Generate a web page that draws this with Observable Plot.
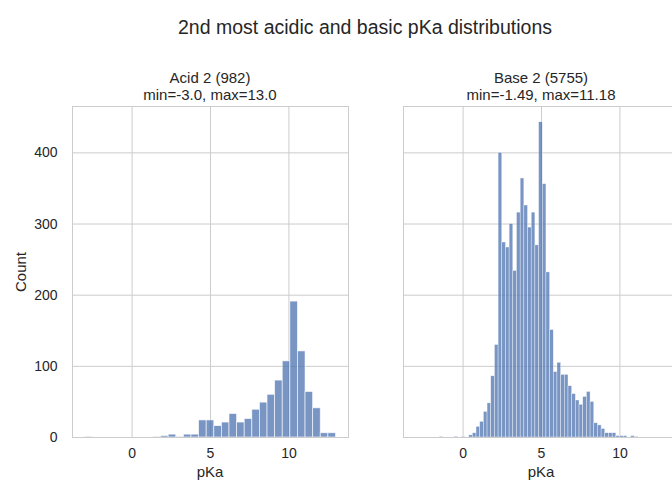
<!DOCTYPE html>
<html>
<head>
<meta charset="utf-8">
<script src="https://cdn.jsdelivr.net/npm/d3@7"></script>
<script src="https://cdn.jsdelivr.net/npm/@observablehq/plot@0.6"></script>
<style>
  html, body { margin: 0; padding: 0; background: #fff; }
  #wrap { position: relative; width: 672px; height: 484px; overflow: hidden; background: #fff;
          font-family: "Liberation Sans", Arial, sans-serif; color: #262626; }
  .abs { position: absolute; white-space: nowrap; }
  .sup { left: 0; width: 730px; top: 16px; text-align: center; font-size: 19.5px; line-height: 22px; }
  .ttl { width: 300px; text-align: center; font-size: 15px; line-height: 17px; top: 69px; }
  .lbl { font-size: 15px; line-height: 18px; text-align: center; width: 100px; }
  .panel { position: absolute; top: 0; line-height: 0; }
  .panel svg { max-width: none !important; display: block; }
</style>
</head>
<body>
<div id="wrap">
  <div class="abs sup">2nd most acidic and basic pKa distributions</div>
  <div class="abs ttl" style="left:60px">Acid 2 (982)<br>min=-3.0, max=13.0</div>
  <div class="abs ttl" style="left:391px">Base 2 (5755)<br>min=-1.49, max=11.18</div>
  <div class="abs lbl" style="left:-29px; top:263px; transform: rotate(-90deg);">Count</div>
  <div class="abs lbl" style="left:160px; top:463px;">pKa</div>
  <div class="abs lbl" style="left:491px; top:463px;">pKa</div>
  <div id="p1" class="panel" style="left:0px; width:349px; height:484px;"></div>
  <div id="p2" class="panel" style="left:402px; width:278px; height:484px;"></div>
</div>
<script>
// ---- data ----
const acidRange = [-3.0, 13.0];
const acidCounts = [1, 0, 0, 0, 0, 0, 0, 0, 0, 1, 2, 4, 1, 4, 4, 24, 24, 16, 21, 33,
                    21, 26, 39, 49, 60, 80, 107, 191, 121, 64, 41, 6, 6];
const baseRange = [-1.49, 11.18];
const baseCounts = [1, 0, 0, 0, 1, 0, 1, 0, 3, 6,
                    15, 22, 36, 48, 86, 130, 400, 274, 267, 300,
                    234, 316, 364, 326, 295, 316, 270, 443, 356, 232,
                    151, 92, 105, 88, 88, 72, 61, 52, 46, 57,
                    64, 50, 20, 17, 12, 6, 6, 6, 2, 2,
                    2, 0, 2, 1];
const xTicks = [0, 5, 10];
const yTicks = [0, 100, 200, 300, 400];

// shared scales (matplotlib 5% margins on data range)
const xMin = Math.min(acidRange[0], baseRange[0]), xMax = Math.max(acidRange[1], baseRange[1]);
const xPad = (xMax - xMin) * 0.05;
const xDomain = [xMin - xPad, xMax + xPad];
const yDomain = [0, Math.max(...acidCounts, ...baseCounts) * 1.05];

function toBins(range, counts) {
  const w = (range[1] - range[0]) / counts.length;
  return counts.map((c, i) => ({x1: range[0] + i * w, x2: range[0] + (i + 1) * w, count: c}))
               .filter(d => d.count > 0);
}

const grid = "#cccccc";
const barColor = "#4c72b0";
const style = {fontFamily: "'Liberation Sans', Arial, sans-serif", fontSize: "14px", color: "#262626",
               background: "transparent", overflow: "visible", maxWidth: "none"};

function panel(bins, opts) {
  return Plot.plot({
    width: opts.width, height: 484,
    marginLeft: opts.marginLeft, marginRight: 1, marginTop: 106, marginBottom: 47,
    style,
    x: {domain: xDomain, ticks: xTicks, tickSize: 0, tickPadding: 11, label: null},
    y: opts.showY
      ? {domain: yDomain, ticks: yTicks, tickSize: 0, tickPadding: 15, label: null}
      : {domain: yDomain, axis: null},
    marks: [
      Plot.ruleX(xTicks, {stroke: grid, strokeWidth: 1}),
      Plot.ruleY(yTicks, {stroke: grid, strokeWidth: 1}),
      Plot.rect(bins, {x1: "x1", x2: "x2", y1: 0, y2: "count",
        fill: barColor, fillOpacity: 0.75, stroke: "#ffffff", strokeOpacity: 0.75, strokeWidth: opts.edge}),
      Plot.frame({stroke: grid, strokeWidth: 1})
    ]
  });
}

document.getElementById("p1").append(panel(toBins(acidRange, acidCounts), {width: 349, marginLeft: 72, showY: true, edge: 0.8}));
document.getElementById("p2").append(panel(toBins(baseRange, baseCounts), {width: 278, marginLeft: 1, showY: false, edge: 0.5}));
</script>
</body>
</html>
